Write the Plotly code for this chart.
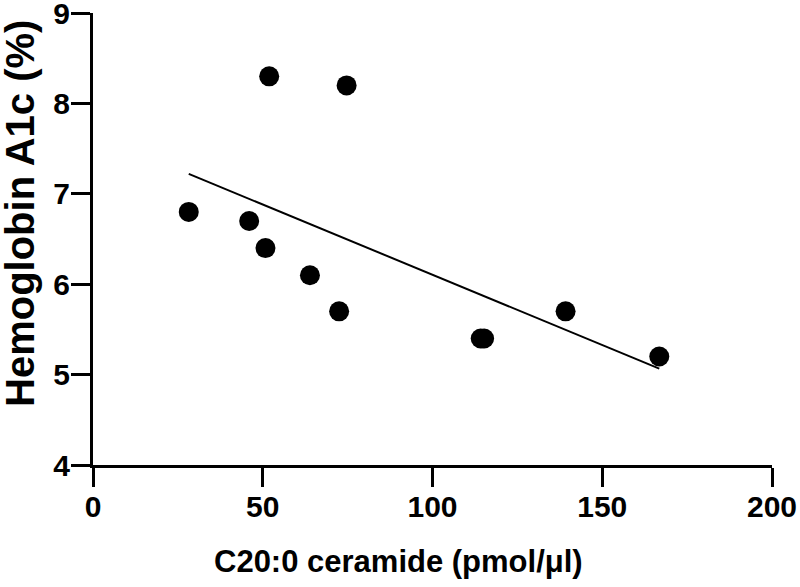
import numpy as np
import plotly.graph_objects as go

# Data
ceramide = [28.2, 46.0, 50.8, 51.9, 63.9, 72.5, 74.7, 114.2, 115.2, 139.2, 166.8]
hba1c = [6.8, 6.7, 6.4, 8.3, 6.1, 5.7, 8.2, 5.4, 5.4, 5.7, 5.2]
x_ticks = [0, 50, 100, 150, 200]
y_ticks = [4, 5, 6, 7, 8, 9]
x_title = "C20:0 ceramide (pmol/\u03bcl)"
y_title = "Hemoglobin A1c (%)"

slope, intercept = np.polyfit(ceramide, hba1c, 1)
fit_x = [min(ceramide), max(ceramide)]
fit_y = [slope * v + intercept for v in fit_x]

FONT = "Liberation Sans, Arial, sans-serif"

L, R, T, B = 93, 28, 13, 122
W, H = 800, 587
PW, PH = W - L - R, H - T - B

fig = go.Figure()
fig.add_trace(go.Scatter(x=fit_x, y=fit_y, mode="lines",
                         line=dict(color="black", width=2), showlegend=False,
                         hoverinfo="skip"))
fig.add_trace(go.Scatter(x=ceramide, y=hba1c, mode="markers",
                         marker=dict(color="black", size=20), showlegend=False,
                         cliponaxis=False))

axis_common = dict(showline=True, linecolor="black", linewidth=3,
                   ticks="outside", ticklen=19, tickwidth=3, tickcolor="black",
                   showgrid=False, zeroline=False, automargin=False,
                   ticklabeloverflow="allow",
                   tickfont=dict(family=FONT, size=30, color="black", weight="bold"))

fig.update_xaxes(range=[0, 200.001], tickvals=x_ticks, ticklabelstandoff=-6, **axis_common)
fig.update_yaxes(range=[4, 9.001], tickvals=y_ticks, ticklabelstandoff=-5, **axis_common)

fig.add_annotation(text=x_title, xref="paper", yref="paper", x=(398 - L) / PW,
                   y=-(561 - (H - B)) / PH, xanchor="center", yanchor="middle",
                   showarrow=False,
                   font=dict(family=FONT, size=31, color="black", weight="bold"))
fig.add_annotation(text=y_title, xref="paper", yref="paper", x=-(L - 20) / PW,
                   y=((H - B) - 214) / PH, xanchor="center", yanchor="middle",
                   textangle=-90, showarrow=False,
                   font=dict(family=FONT, size=40, color="black", weight="bold"))

fig.update_layout(width=W, height=H, plot_bgcolor="white", paper_bgcolor="white",
                  margin=dict(l=L, r=R, t=T, b=B, autoexpand=False), showlegend=False)

fig.write_html("out.html", config={"displayModeBar": False},
               post_script="document.body.style.margin='0px';")
